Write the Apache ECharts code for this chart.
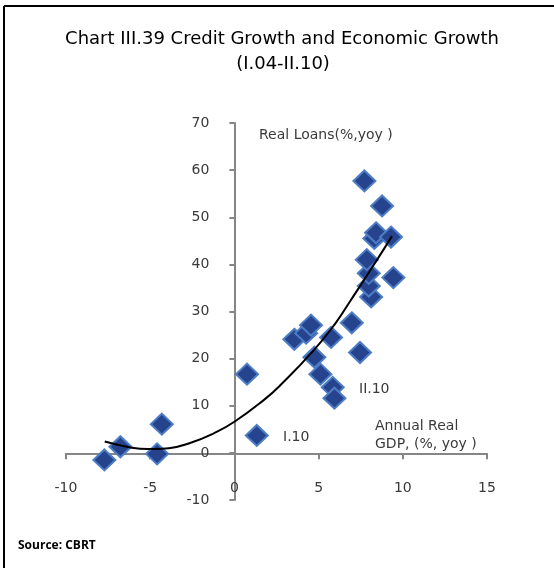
<!DOCTYPE html>
<html>
<head>
<meta charset="utf-8">
<script src="https://cdn.jsdelivr.net/npm/echarts@6/dist/echarts.min.js"></script>
<style>
html,body{margin:0;padding:0;background:#fff;}
#chart{width:554px;height:568px;}
</style>
</head>
<body>
<div id="chart"></div>
<script>
// Annual real GDP growth (%, yoy), quarters I.04 - II.10
const gdpGrowth = [-7.72, -6.77, -4.59, -4.31, 0.75, 1.33, 3.56, 4.26, 4.55, 4.75, 5.11, 5.74, 5.84, 5.94, 6.97, 7.46, 8.12, 7.98, 7.98, 9.44, 7.86, 8.31, 8.41, 9.30, 8.77, 7.72];
// Real loans growth (%, yoy)
const loanGrowth = [-1.5, 1.3, -0.2, 6.1, 16.7, 3.7, 24.1, 25.4, 27.1, 20.3, 16.7, 24.5, 13.9, 11.6, 27.6, 21.3, 33.1, 35.4, 38.1, 37.2, 41.0, 45.5, 46.7, 45.8, 52.4, 57.7];
// Trend curve
const trendX = [-7.7, -6.1, -5.1, -3.9, -2.55, -1.2, 0, 1.74, 2.74, 4.72, 6.0, 6.93, 8.08, 9.36];
const trendY = [2.4, 1.1, 0.8, 1.0, 2.2, 4.2, 6.6, 11.2, 14.4, 21.8, 27.5, 32.5, 38.8, 46.0];
// Axis ticks
const xTicks = [-10, -5, 0, 5, 10, 15];
const yTicks = [-10, 0, 10, 20, 30, 40, 50, 60, 70];

const font = 'DejaVu Sans';
const axisColor = '#868686';
const labelColor = '#3a3a3a';
const chart = echarts.init(document.getElementById('chart'), null, {renderer: 'canvas'});

chart.setOption({
  animation: false,
  backgroundColor: '#ffffff',
  grid: {left: 66, right: 67, top: 123, bottom: 68},
  xAxis: {
    type: 'value',
    position: 'bottom',
    offset: -46.7,
    min: xTicks[0], max: xTicks[xTicks.length - 1], interval: 5,
    axisLine: {show: true, onZero: false, lineStyle: {color: axisColor, width: 2}},
    axisTick: {show: true, length: 6, lineStyle: {color: axisColor, width: 2}},
    axisLabel: {margin: 28, fontSize: 14, color: labelColor, fontFamily: font},
    splitLine: {show: false}
  },
  yAxis: {
    type: 'value',
    position: 'left',
    offset: -168.4,
    min: yTicks[0], max: yTicks[yTicks.length - 1], interval: 10,
    axisLine: {show: true, onZero: false, lineStyle: {color: axisColor, width: 2}},
    axisTick: {show: true, length: 5, lineStyle: {color: axisColor, width: 2}},
    axisLabel: {margin: 25, fontSize: 14, color: labelColor, fontFamily: font},
    splitLine: {show: false}
  },
  series: [
    {
      type: 'scatter',
      symbol: 'diamond',
      symbolSize: [22, 21],
      itemStyle: {color: '#26448E', borderColor: '#4D7DC4', borderWidth: 2, opacity: 1},
      data: gdpGrowth.map((x, i) => [x, loanGrowth[i]]),
      z: 2
    },
    {
      type: 'line',
      smooth: true,
      showSymbol: false,
      lineStyle: {color: '#000', width: 2},
      data: trendX.map((x, i) => [x, trendY[i]]),
      z: 3
    }
  ],
  graphic: [
    {type: 'line', shape: {x1: 4, y1: 6, x2: 554, y2: 6}, style: {stroke: '#000', lineWidth: 2}},
    {type: 'line', shape: {x1: 4, y1: 6, x2: 4, y2: 568}, style: {stroke: '#000', lineWidth: 2}},
    {type: 'text', x: 282, y: 39, style: {text: 'Chart III.39 Credit Growth and Economic Growth', fontSize: 18, fontFamily: font, fill: '#000', textAlign: 'center', textVerticalAlign: 'middle'}},
    {type: 'text', x: 283, y: 64, style: {text: '(I.04-II.10)', fontSize: 18, fontFamily: font, fill: '#000', textAlign: 'center', textVerticalAlign: 'middle'}},
    {type: 'text', x: 259, y: 135, style: {text: 'Real Loans(%,yoy )', fontSize: 14, fontFamily: font, fill: labelColor, textVerticalAlign: 'middle'}},
    {type: 'text', x: 359, y: 389, style: {text: 'II.10', fontSize: 14, fontFamily: font, fill: labelColor, textVerticalAlign: 'middle'}},
    {type: 'text', x: 283, y: 437, style: {text: 'I.10', fontSize: 14, fontFamily: font, fill: labelColor, textVerticalAlign: 'middle'}},
    {type: 'text', x: 375, y: 426, style: {text: 'Annual Real', fontSize: 14, fontFamily: font, fill: labelColor, textVerticalAlign: 'middle'}},
    {type: 'text', x: 375, y: 444, style: {text: 'GDP, (%, yoy )', fontSize: 14, fontFamily: font, fill: labelColor, textVerticalAlign: 'middle'}},
    {type: 'text', x: 18, y: 546, style: {text: 'Source: CBRT', fontSize: 12, fontWeight: 'bold', fontFamily: 'Open Sans', fill: '#000', textVerticalAlign: 'middle'}}
  ]
});
</script>
</body>
</html>
